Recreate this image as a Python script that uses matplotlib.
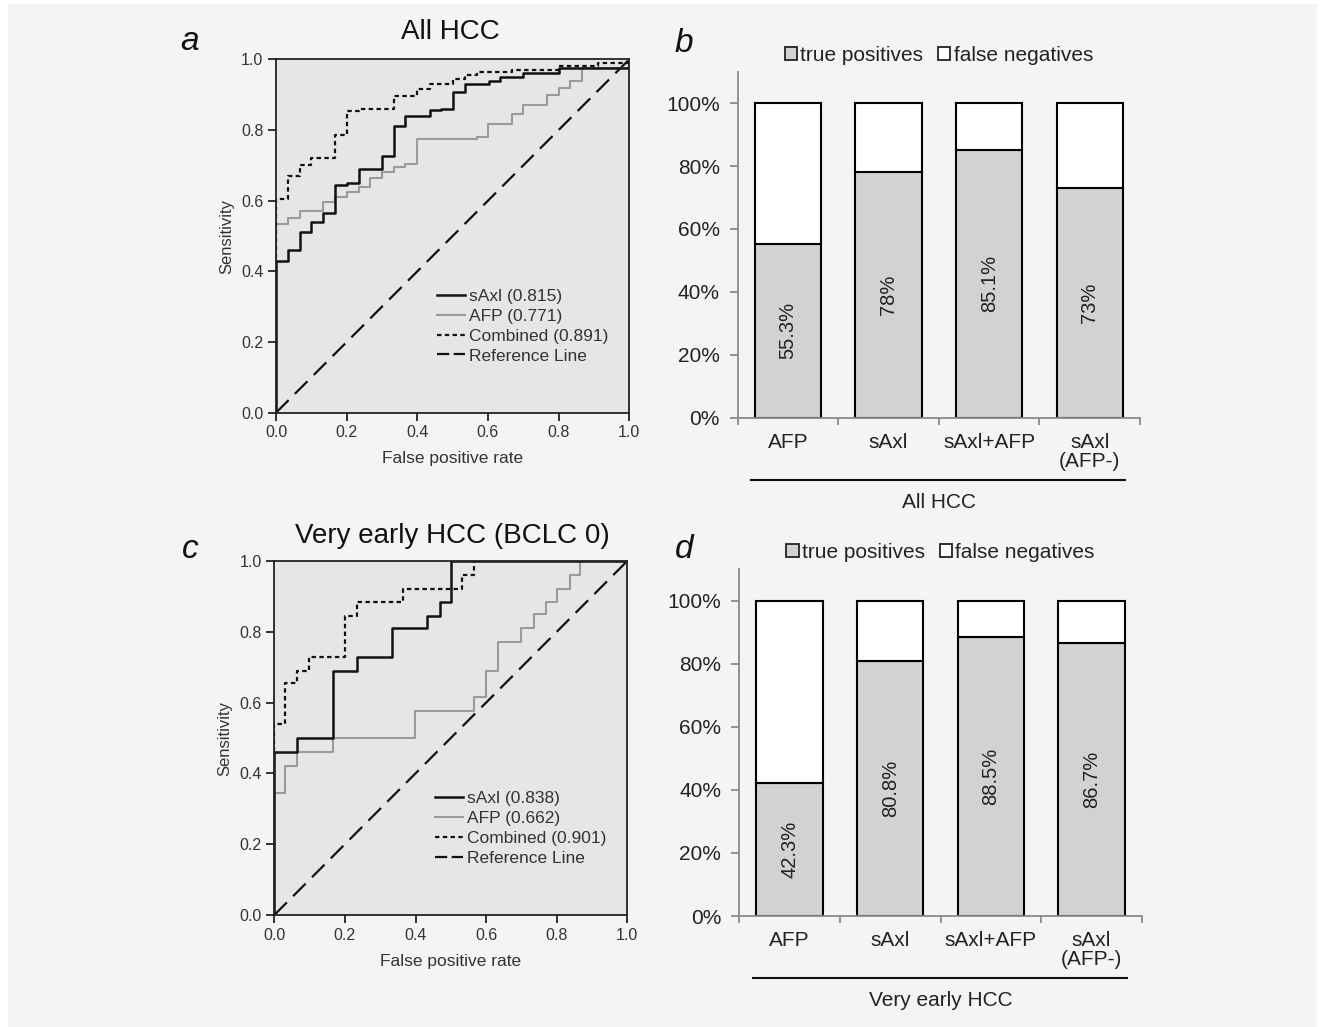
import matplotlib
matplotlib.use("Agg")
import matplotlib.pyplot as plt
from matplotlib.patches import Patch, Rectangle
from matplotlib.lines import Line2D

plt.rcParams["font.family"] = ["Liberation Sans", "DejaVu Sans"]

# ==========================
# Data
# ==========================

# ROC, all HCC (panel a)
a_saxl_fpr = [0, 0, 0.033, 0.069, 0.1, 0.132, 0.168, 0.2, 0.234, 0.3, 0.333, 0.366,
              0.435, 0.468, 0.5, 0.536, 0.602, 0.635, 0.70, 0.8, 1.0, 1.0]
a_saxl_tpr = [0, 0.43, 0.46, 0.51, 0.54, 0.564, 0.644, 0.651, 0.689, 0.725, 0.81, 0.84,
              0.857, 0.86, 0.907, 0.929, 0.939, 0.95, 0.96, 0.975, 0.98, 1.0]
a_afp_fpr = [0, 0, 0.033, 0.067, 0.132, 0.168, 0.2, 0.234, 0.267, 0.3, 0.333, 0.366,
             0.4, 0.57, 0.6, 0.668, 0.7, 0.767, 0.8, 0.833, 0.866, 1.0]
a_afp_tpr = [0, 0.535, 0.55, 0.57, 0.595, 0.61, 0.625, 0.64, 0.665, 0.68, 0.695, 0.705,
             0.774, 0.78, 0.817, 0.845, 0.87, 0.9, 0.92, 0.94, 0.975, 1.0]
a_comb_fpr = [0, 0, 0.033, 0.067, 0.1, 0.168, 0.2, 0.234, 0.333, 0.4, 0.435, 0.5,
              0.536, 0.57, 0.668, 0.8, 0.91, 1.0]
a_comb_tpr = [0, 0.604, 0.67, 0.70, 0.72, 0.785, 0.854, 0.86, 0.895, 0.915, 0.93, 0.945,
              0.955, 0.965, 0.97, 0.98, 0.99, 1.0]

# ROC, very early HCC (panel c)
c_saxl_fpr = [0, 0, 0.063, 0.165, 0.233, 0.334, 0.433, 0.469, 0.5, 1.0]
c_saxl_tpr = [0, 0.46, 0.50, 0.69, 0.73, 0.81, 0.845, 0.885, 1.0, 1.0]
c_afp_fpr = [0, 0, 0.03, 0.063, 0.165, 0.398, 0.566, 0.6, 0.634, 0.7, 0.735, 0.77,
             0.8, 0.837, 0.867, 1.0]
c_afp_tpr = [0, 0.345, 0.42, 0.46, 0.50, 0.575, 0.615, 0.69, 0.77, 0.81, 0.85, 0.885,
             0.92, 0.96, 1.0, 1.0]
c_comb_fpr = [0, 0, 0.03, 0.063, 0.098, 0.2, 0.233, 0.365, 0.532, 0.566, 1.0]
c_comb_tpr = [0, 0.54, 0.655, 0.69, 0.73, 0.845, 0.885, 0.92, 0.96, 1.0, 1.0]

auc_a = ["0.815", "0.771", "0.891"]
auc_c = ["0.838", "0.662", "0.901"]

# Detection rates (panels b, d)
categories = ["AFP", "sAxl", "sAxl+AFP", "sAxl\n(AFP-)"]
tp_all = [55.3, 78, 85.1, 73]
tp_early = [42.3, 80.8, 88.5, 86.7]

# ==========================
# Figure
# ==========================

W, H = 1322, 1027
fig = plt.figure(figsize=(W / 100, H / 100), dpi=100, facecolor="white")
fig.patches.append(Rectangle((8 / W, 0), 1309 / W, 1 - 4 / H, transform=fig.transFigure,
                             facecolor="#f4f4f4", edgecolor="none", zorder=-10))


def px_axes(x0, y0, x1, y1):
    # pixel box (left, top, right, bottom) -> figure axes
    return fig.add_axes([x0 / W, 1 - y1 / H, (x1 - x0) / W, (y1 - y0) / H])


def roc_panel(ax, curves, aucs):
    ax.set_facecolor("#e6e6e6")
    sx, sy, ax_, ay, cx, cy = curves
    ax.plot([0, 1], [0, 1], color="#111111", lw=1.6, dashes=(8, 4))
    ax.plot(ax_, ay, color="#9a9a9a", lw=1.5, drawstyle="steps-post")
    ax.plot(sx, sy, color="#111111", lw=1.8, drawstyle="steps-post")
    ax.plot(cx, cy, color="#111111", lw=1.6, dashes=(2, 1.5), drawstyle="steps-post")
    ax.set_xlim(0, 1)
    ax.set_ylim(0, 1)
    ticks = [0, 0.2, 0.4, 0.6, 0.8, 1.0]
    ax.set_xticks(ticks)
    ax.set_yticks(ticks)
    ax.set_xticklabels([f"{t:.1f}" for t in ticks])
    ax.set_yticklabels([f"{t:.1f}" for t in ticks])
    ax.tick_params(direction="out", length=6, width=1.3, colors="#222222",
                   labelsize=11.5, labelcolor="#333333", pad=3)
    for s in ax.spines.values():
        s.set_color("#222222")
        s.set_linewidth(1.3)
    ax.set_xlabel("False positive rate", fontsize=12.5, color="#333333", labelpad=8)
    ax.set_ylabel("Sensitivity", fontsize=12, color="#333333", labelpad=5)
    handles = [
        Line2D([], [], color="#111111", lw=1.8),
        Line2D([], [], color="#9a9a9a", lw=1.5),
        Line2D([], [], color="#111111", lw=1.6, dashes=(2, 1.5)),
        Line2D([], [], color="#111111", lw=1.6, dashes=(5.5, 2)),
    ]
    labels = [f"sAxl ({aucs[0]})", f"AFP ({aucs[1]})", f"Combined ({aucs[2]})",
              "Reference Line"]
    ax.legend(handles, labels, loc="upper left", bbox_to_anchor=(0.43, 0.375),
              frameon=False, fontsize=12.5, handlelength=1.65, handletextpad=0.2,
              labelspacing=0.27, borderpad=0, labelcolor="#333333")


def bar_panel(ax, values, group):
    x = list(range(len(categories)))
    ax.bar(x, [v / 100 for v in values], width=0.66, color="#d2d2d2",
           edgecolor="black", linewidth=1.5)
    ax.bar(x, [1 - v / 100 for v in values], bottom=[v / 100 for v in values], width=0.66,
           color="white", edgecolor="black", linewidth=1.5)
    for xi, v in zip(x, values):
        ax.text(xi, v / 200, f"{v:g}%", rotation=90, ha="center", va="center",
                fontsize=14.5, color="#222222")
    ax.set_xlim(-0.5, 3.5)
    ax.set_ylim(0, 1.1)
    ax.set_facecolor("none")
    ax.spines["top"].set_visible(False)
    ax.spines["right"].set_visible(False)
    for s in ["left", "bottom"]:
        ax.spines[s].set_color("#8a8a8a")
        ax.spines[s].set_linewidth(1.3)
    ax.set_yticks([0, 0.2, 0.4, 0.6, 0.8, 1.0])
    ax.set_yticklabels(["0%", "20%", "40%", "60%", "80%", "100%"])
    ax.tick_params(axis="y", direction="out", length=6, width=1.3, colors="#8a8a8a",
                   labelsize=15, labelcolor="#222222", pad=7)
    ax.set_xticks([-0.5, 0.5, 1.5, 2.5, 3.5])
    ax.set_xticklabels([])
    ax.tick_params(axis="x", which="major", direction="out", length=5, width=1.3,
                   colors="#8a8a8a")
    ax.set_xticks(x, minor=True)
    ax.set_xticklabels(categories, minor=True)
    ax.tick_params(axis="x", which="minor", length=0, labelsize=15,
                   labelcolor="#222222", pad=11)
    for lab in ax.get_xticklabels(minor=True):
        lab.set_va("top")
        lab.set_linespacing(1.0)
    ax.plot([0.033, 0.963], [-0.18, -0.18], transform=ax.transAxes, color="#111111",
            lw=1.5, clip_on=False)
    ax.text(0.5, -0.245, group, transform=ax.transAxes, ha="center", va="center",
            fontsize=15, color="#222222")
    handles = [Patch(facecolor="#d2d2d2", edgecolor="#222222", linewidth=1.3),
               Patch(facecolor="white", edgecolor="#222222", linewidth=1.3)]
    ax.legend(handles, ["true positives", "false negatives"], loc="center",
              bbox_to_anchor=(0.5, 1.048), ncol=2, frameon=False, fontsize=15,
              handlelength=0.6, handleheight=0.6, handletextpad=0.15,
              columnspacing=0.7, borderpad=0, labelcolor="#222222")


# ==========================
# Panel a / c: ROC curves
# ==========================

ax_a = px_axes(276, 59.3, 629.3, 412.7)
roc_panel(ax_a, (a_saxl_fpr, a_saxl_tpr, a_afp_fpr, a_afp_tpr, a_comb_fpr, a_comb_tpr), auc_a)
ax_c = px_axes(274.3, 561, 627.3, 915)
roc_panel(ax_c, (c_saxl_fpr, c_saxl_tpr, c_afp_fpr, c_afp_tpr, c_comb_fpr, c_comb_tpr), auc_c)

# ==========================
# Panel b / d: stacked bars
# ==========================

ax_b = px_axes(737.7, 71.7, 1140, 417.7)
bar_panel(ax_b, tp_all, "All HCC")
ax_d = px_axes(739.3, 569.3, 1141.7, 916)
bar_panel(ax_d, tp_early, "Very early HCC")

# Titles and panel letters
fig.text(450 / W, 1 - 32 / H, "All HCC", ha="center", va="center", fontsize=20, color="#111111")
fig.text(452 / W, 1 - 536 / H, "Very early HCC (BCLC 0)", ha="center", va="center",
         fontsize=20, color="#111111")
for letter, (lx, ly) in zip("abcd", [(190, 42), (684, 44), (190, 550), (684, 550)]):
    fig.text(lx / W, 1 - ly / H, letter, ha="center", va="center", fontsize=24,
             style="italic", color="#111111")

fig.savefig("out.png", dpi=100, facecolor=fig.get_facecolor())
